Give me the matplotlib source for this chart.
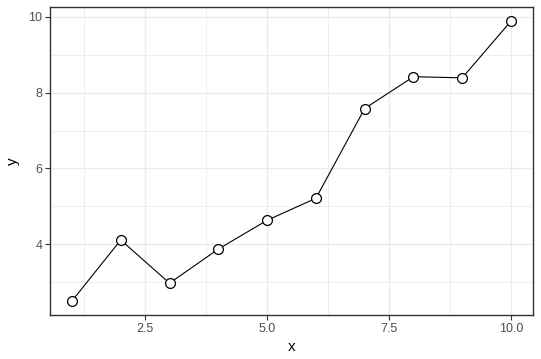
import matplotlib
matplotlib.use("Agg")
import matplotlib.pyplot as plt
from matplotlib.ticker import MultipleLocator

plt.rcParams['font.family'] = ['Liberation Sans', 'DejaVu Sans']

x = [1, 2, 3, 4, 5, 6, 7, 8, 9, 10]
y = [2.50, 4.11, 2.97, 3.87, 4.63, 5.21, 7.58, 8.42, 8.39, 9.89]

fig = plt.figure(figsize=(5.41, 3.59), dpi=100)
ax = fig.add_axes([50 / 541, 44 / 359, 483 / 541, 308 / 359])

# ggplot-ish theme_bw
ax.set_xlim(0.55, 10.45)
ax.set_ylim(2.13, 10.26)
ax.xaxis.set_minor_locator(MultipleLocator(1.25))
ax.yaxis.set_minor_locator(MultipleLocator(1))
ax.set_xticks([2.5, 5.0, 7.5, 10.0])
ax.set_xticklabels(["2.5", "5.0", "7.5", "10.0"])
ax.set_yticks([4, 6, 8, 10])

ax.grid(which="major", color="#EBEBEB", linewidth=1.0)
ax.grid(which="minor", color="#EBEBEB", linewidth=0.6)
ax.set_axisbelow(True)
ax.tick_params(which="minor", length=0)
ax.tick_params(which="major", length=3.5, width=0.8, color="#333333",
               labelsize=9, labelcolor="#4D4D4D", pad=2)
for s in ax.spines.values():
    s.set_color("#333333")
    s.set_linewidth(1.0)

ax.plot(x, y, color="black", linewidth=0.8, zorder=2)
ax.scatter(x, y, s=50, facecolor="white", edgecolor="black", linewidth=0.9, zorder=3)

ax.set_xlabel("x", fontsize=11, labelpad=4)
ax.set_ylabel("y", fontsize=11, labelpad=6)

fig.savefig("out.png", dpi=100)
